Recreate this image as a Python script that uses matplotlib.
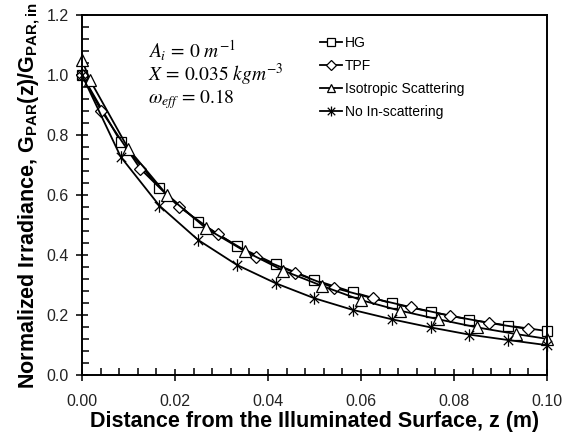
import matplotlib
matplotlib.use("Agg")
import matplotlib.pyplot as plt
from matplotlib.path import Path
from matplotlib.ticker import MultipleLocator, FormatStrFormatter

plt.rcParams['font.family'] = ['Liberation Sans', 'DejaVu Sans']
plt.rcParams['mathtext.fontset'] = 'custom'
plt.rcParams['mathtext.rm'] = 'Liberation Sans:bold'
plt.rcParams['mathtext.bf'] = 'Liberation Sans:bold'
plt.rcParams['mathtext.it'] = 'Liberation Sans:bold:italic'

# distance from the illuminated surface (m) and normalized irradiance
z_hg = [0.0, 0.00833, 0.01667, 0.025, 0.03333, 0.04167, 0.05, 0.05833,
        0.06667, 0.075, 0.08333, 0.09167, 0.1]
g_hg = [1.0, 0.778, 0.625, 0.512, 0.431, 0.370, 0.318, 0.277,
        0.240, 0.212, 0.186, 0.166, 0.148]

z_tpf = [0.0, 0.00417, 0.0125, 0.02083, 0.02917, 0.0375, 0.04583, 0.05417,
         0.0625, 0.07083, 0.07917, 0.0875, 0.09583]
g_tpf = [1.0, 0.881, 0.689, 0.562, 0.470, 0.394, 0.342, 0.292,
         0.257, 0.227, 0.199, 0.175, 0.155]

z_iso = [0.0, 0.00167, 0.01, 0.01833, 0.02667, 0.035, 0.04333, 0.05167,
         0.06, 0.06833, 0.07667, 0.085, 0.09333, 0.1]
g_iso = [1.05, 0.985, 0.754, 0.600, 0.490, 0.414, 0.349, 0.298,
         0.251, 0.216, 0.187, 0.160, 0.138, 0.122]

z_noin = [0.0, 0.00833, 0.01667, 0.025, 0.03333, 0.04167, 0.05, 0.05833,
          0.06667, 0.075, 0.08333, 0.09167, 0.1]
g_noin = [1.0, 0.728, 0.565, 0.451, 0.368, 0.307, 0.257, 0.218,
          0.187, 0.160, 0.136, 0.118, 0.101]

labels = ['HG', 'TPF', 'Isotropic Scattering', 'No In-scattering']

# asterisk marker: vertical bar plus an X
star = Path([(0, -1), (0, 1), (-0.75, -0.75), (0.75, 0.75),
             (-0.75, 0.75), (0.75, -0.75)],
            [Path.MOVETO, Path.LINETO, Path.MOVETO, Path.LINETO,
             Path.MOVETO, Path.LINETO])

fig = plt.figure(figsize=(5.63, 4.45), dpi=100)
ax = fig.add_axes([0.1456, 0.1562, 0.8259, 0.8101])

common = dict(color='black', lw=1.3, mfc='white', mec='black', mew=0.9,
              clip_on=False)
ax.plot(z_hg, g_hg, marker='s', ms=7.5, label=labels[0], **common)
ax.plot(z_tpf, g_tpf, marker='D', ms=6, label=labels[1], **common)
ax.plot(z_iso, g_iso, marker='^', ms=8, label=labels[2], **common)
ax.plot(z_noin, g_noin, marker=star, ms=9, label=labels[3], **common)

ax.set_xlim(0, 0.1)
ax.set_ylim(0, 1.2)
ax.xaxis.set_major_locator(MultipleLocator(0.02))
ax.xaxis.set_minor_locator(MultipleLocator(0.004))
ax.yaxis.set_major_locator(MultipleLocator(0.2))
ax.yaxis.set_minor_locator(MultipleLocator(0.04))
ax.xaxis.set_major_formatter(FormatStrFormatter('%.2f'))
ax.yaxis.set_major_formatter(FormatStrFormatter('%.1f'))
ax.tick_params(which='major', direction='inout', length=9, width=1.3,
               labelsize=11.5, colors='#222222')
ax.tick_params(axis='x', which='major', pad=9)
ax.tick_params(axis='y', which='major', pad=5)
ax.tick_params(which='minor', direction='in', length=5, width=1.1)
for sp in ax.spines.values():
    sp.set_linewidth(1.4)

ax.set_xlabel('Distance from the Illuminated Surface, z (m)',
              fontsize=15.5, fontweight='bold', labelpad=1)
ax.set_ylabel(r'Normalized Irradiance, G$_{\mathbf{PAR}}$(z)/G$_{\mathbf{PAR,in}}$',
              fontsize=15.5, fontweight='bold', labelpad=3)

ax.legend(loc='upper left', bbox_to_anchor=(0.50, 0.957), frameon=False,
          fontsize=10, handlelength=1.6, handletextpad=0.2,
          labelspacing=0.65, borderaxespad=0, markerscale=0.8)

ax.text(0.142, 0.881, r'$A_i\,=\,0\ m^{-1}$', transform=ax.transAxes,
        fontsize=14, va='baseline', math_fontfamily='stix')
ax.text(0.142, 0.817, r'$X\,=\,0.035\ kgm^{-3}$', transform=ax.transAxes,
        fontsize=14, va='baseline', math_fontfamily='stix')
ax.text(0.142, 0.755, r'$\omega_{eff}\,=\,0.18$', transform=ax.transAxes,
        fontsize=14, va='baseline', math_fontfamily='stix')

fig.savefig('out.png', dpi=100)
